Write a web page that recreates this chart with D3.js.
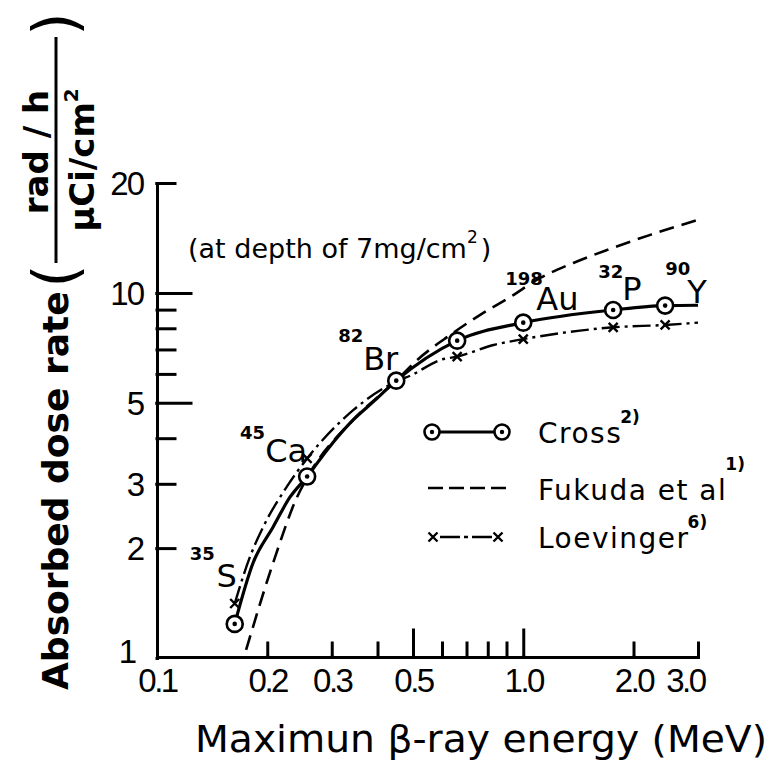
<!DOCTYPE html>
<html>
<head>
<meta charset="utf-8">
<title>Absorbed dose rate vs maximum beta-ray energy</title>
<script src="https://d3js.org/d3.v7.min.js"></script>
<style>
  body { margin: 0; background: #fff; }
  svg { display: block; background: #fff; }
  text { fill: #000; }
</style>
</head>
<body>
<svg id="chart" width="771" height="762"></svg>
<script>
// nuclides measured by Cross (circle markers)
const nuclideMass = ["35", "45", "82", "", "198", "32", "90"];
const nuclideSym  = ["S", "Ca", "Br", "", "Au", "P", "Y"];
const energy      = [0.163, 0.257, 0.45, 0.66, 1.0, 1.76, 2.44];   // MeV
const crossDose   = [1.24, 3.14, 5.75, 7.40, 8.29, 8.98, 9.23];

// Loevinger x markers
const loevEnergy = [0.163, 0.257, 0.66, 1.0, 1.76, 2.44];
const loevDose   = [1.41, 3.52, 6.69, 7.47, 8.05, 8.17];

// curves, [MeV, dose]
const crossCurve = [[0.163, 1.24], [0.1829, 1.821], [0.2075, 2.285], [0.2309, 2.761],
  [0.257, 3.14], [0.2914, 3.715], [0.3432, 4.487], [0.3892, 5.028], [0.45, 5.75], [0.66, 7.40],
  [1.0, 8.29], [1.76, 8.98], [2.44, 9.23], [3.0, 9.25]];
const fukudaCurve = [[0.1751, 1.052], [0.2075, 1.821], [0.2413, 2.761], [0.257, 3.12], [0.3432, 4.49],
  [0.45, 5.75], [0.5133, 6.55], [0.6317, 7.67], [0.7629, 8.71], [0.9215, 9.75], [1.113, 10.99],
  [1.37, 12.08], [1.696, 13.12], [2.223, 14.42], [3.0, 15.85]];
const loevCurve = [[0.163, 1.41], [0.1795, 1.895], [0.1952, 2.29], [0.2262, 2.947], [0.257, 3.52],
  [0.3439, 4.78], [0.45, 5.72], [0.4964, 5.96], [0.5933, 6.55], [0.66, 6.69],
  [0.8295, 7.20], [1.0, 7.47], [1.76, 8.05], [2.44, 8.17], [3.0, 8.29]];

// axes
const xMinor  = [0.2, 0.3, 0.4, 0.6, 0.7, 0.8, 0.9, 2.0, 3.0];
const xMajor  = [0.5, 1.0];
const xLabels = [0.1, 0.2, 0.3, 0.5, 1.0, 2.0, 3.0];
const yMinor  = [2, 3, 4, 6, 7, 8, 9, 20];
const yMajor  = [5, 10];
const yLabels = [1, 2, 3, 5, 10, 20];

const svg = d3.select("#chart");

const x = d3.scaleLog().domain([0.1, 3.0]).range([157, 698]);
const y = d3.scaleLog().domain([1, 20]).range([658, 183]);

const tickFont = "'Liberation Sans', Arial, sans-serif";
const mainFont = "'DejaVu Sans', sans-serif";

// --- axes ---
const gx = svg.append("g").attr("transform", "translate(0,657)");
gx.call(d3.axisBottom(x).tickValues(xMinor).tickSize(-14).tickSizeOuter(0).tickFormat(""));
gx.append("g").call(d3.axisBottom(x).tickValues(xMajor).tickSize(-27).tickSizeOuter(0).tickFormat(""))
  .select(".domain").remove();
const gxl = gx.append("g").call(d3.axisBottom(x).tickValues(xLabels).tickSize(0).tickPadding(12)
  .tickFormat(d3.format(".1f")));
gxl.select(".domain").remove();
gxl.selectAll("text")
  .attr("font-family", tickFont).attr("font-size", 33).attr("letter-spacing", -2.5)
  .attr("text-anchor", (d, i) => i === xLabels.length - 1 ? "end" : "middle")
  .attr("dx", (d, i) => i === xLabels.length - 1 ? 6 : 0);

const gy = svg.append("g").attr("transform", "translate(157,0)");
gy.call(d3.axisLeft(y).tickValues(yMinor).tickSize(-18).tickSizeOuter(0).tickFormat(""));
gy.append("g").call(d3.axisLeft(y).tickValues(yMajor).tickSize(-34).tickSizeOuter(0).tickFormat(""))
  .select(".domain").remove();
const gyl = gy.append("g").call(d3.axisLeft(y).tickValues(yLabels).tickSize(0).tickPadding(14)
  .tickFormat(d3.format("d")));
gyl.select(".domain").remove();
gyl.selectAll("text")
  .attr("font-family", tickFont).attr("font-size", 33).attr("letter-spacing", -2)
  .attr("dy", d => d === 1 ? "0.15em" : "0.35em")
  .attr("dx", d => d === 1 ? -8 : 0);

svg.selectAll(".domain, .tick line")
  .attr("stroke", "#000").attr("stroke-width", 3).attr("stroke-linecap", "square");

// --- curves ---
const line = d3.line()
  .x(d => x(d[0]))
  .y(d => y(d[1]))
  .curve(d3.curveMonotoneX);

svg.append("path").datum(fukudaCurve)
  .attr("d", line).attr("fill", "none").attr("stroke", "#000")
  .attr("stroke-width", 2.6).attr("stroke-dasharray", "15,8");

svg.append("path").datum(loevCurve)
  .attr("d", line).attr("fill", "none").attr("stroke", "#000")
  .attr("stroke-width", 2.4).attr("stroke-dasharray", "18,5,3,5");

svg.append("path").datum(crossCurve)
  .attr("d", line).attr("fill", "none").attr("stroke", "#000")
  .attr("stroke-width", 3.2);

// --- markers ---
const xMark = "M-4.5,-4.5L4.5,4.5M-4.5,4.5L4.5,-4.5";

svg.selectAll(".lx").data(loevEnergy).enter().append("path")
  .attr("class", "lx")
  .attr("transform", (d, i) => `translate(${x(d)},${y(loevDose[i])})`)
  .attr("d", xMark).attr("stroke", "#000").attr("stroke-width", 2.4);

const cm = svg.selectAll(".cm").data(energy).enter().append("g")
  .attr("class", "cm")
  .attr("transform", (d, i) => `translate(${x(d)},${y(crossDose[i])})`);
cm.append("circle").attr("r", 8).attr("fill", "#fff").attr("stroke", "#000").attr("stroke-width", 2.6);
cm.append("circle").attr("r", 2.3).attr("fill", "#000");

// --- nuclide labels (offsets from the circle) ---
const labelLayout = [
  { anchor: "end",   sx: 2,  sy: -37, mx: -20, my: -64 },
  { anchor: "end",   sx: 0,  sy: -15, mx: -42, my: -38 },
  { anchor: "end",   sx: 2,  sy: -11, mx: -33, my: -39 },
  null,
  { anchor: "start", sx: 13, sy: -13, mx: -18, my: -38 },
  { anchor: "start", sx: 9,  sy: -10, mx: -15, my: -32 },
  { anchor: "start", sx: 22, sy: -3,  mx: 0,   my: -31 }
];

energy.forEach((e, i) => {
  const L = labelLayout[i];
  if (!L) return;
  const cx = x(e), cy = y(crossDose[i]);
  svg.append("text")
    .attr("x", cx + L.sx).attr("y", cy + L.sy)
    .attr("text-anchor", L.anchor)
    .attr("font-family", mainFont).attr("font-size", 32)
    .text(nuclideSym[i]);
  svg.append("text")
    .attr("x", cx + L.mx).attr("y", cy + L.my)
    .attr("text-anchor", L.anchor)
    .attr("font-family", mainFont).attr("font-weight", "bold").attr("font-size", 18)
    .text(nuclideMass[i]);
});

// --- annotation ---
const note = svg.append("text")
  .attr("x", 188).attr("y", 258)
  .attr("font-family", mainFont).attr("font-size", 27);
note.append("tspan").text("(at depth of 7mg/cm");
note.append("tspan").attr("font-size", 17).attr("dy", -15).text("2");
note.append("tspan").attr("dy", 15).attr("dx", 3).text(")");

// --- legend ---
const lg = svg.append("g");
lg.append("line").attr("x1", 432).attr("x2", 502).attr("y1", 432).attr("y2", 432)
  .attr("stroke", "#000").attr("stroke-width", 3);
[432, 502].forEach(px => {
  lg.append("circle").attr("cx", px).attr("cy", 432).attr("r", 7.5)
    .attr("fill", "#fff").attr("stroke", "#000").attr("stroke-width", 2.6);
  lg.append("circle").attr("cx", px).attr("cy", 432).attr("r", 2.2).attr("fill", "#000");
});
lg.append("line").attr("x1", 428).attr("x2", 507).attr("y1", 488).attr("y2", 488)
  .attr("stroke", "#000").attr("stroke-width", 2.6).attr("stroke-dasharray", "15,6");
lg.append("line").attr("x1", 440).attr("x2", 492).attr("y1", 537).attr("y2", 537)
  .attr("stroke", "#000").attr("stroke-width", 2.4).attr("stroke-dasharray", "20,4,4,4");
[433, 498].forEach(px => {
  lg.append("path").attr("transform", `translate(${px},537)`).attr("d", xMark)
    .attr("stroke", "#000").attr("stroke-width", 2.4);
});

const legendNames = ["Cross", "Fukuda et al", "Loevinger"];
const legendRefs  = ["2)", "1)", "6)"];
const legendY   = [443, 500, 548];
const legendRise = [20, 30, 20];
legendNames.forEach((n, i) => {
  const t = lg.append("text").attr("x", 538).attr("y", legendY[i])
    .attr("font-family", mainFont).attr("font-size", 28).attr("letter-spacing", 1.5)
    .text(n);
  const w = t.node().getComputedTextLength();
  lg.append("text").attr("x", 538 + w - 2).attr("y", legendY[i] - legendRise[i])
    .attr("font-family", mainFont).attr("font-weight", "bold").attr("font-size", 17)
    .text(legendRefs[i]);
});

// --- axis titles ---
svg.append("text")
  .attr("x", 195).attr("y", 752)
  .attr("font-family", mainFont).attr("font-size", 38)
  .attr("textLength", 572).attr("lengthAdjust", "spacingAndGlyphs")
  .text("Maximun β-ray energy (MeV)");

const yt = svg.append("g").attr("font-family", mainFont).attr("font-weight", "bold");
yt.append("text")
  .attr("transform", "translate(68,690) rotate(-90)")
  .attr("font-size", 36)
  .text("Absorbed dose rate");
yt.append("text")
  .attr("transform", "translate(76,276) rotate(-90)")
  .attr("text-anchor", "middle").attr("font-size", 60).attr("font-weight", "normal")
  .text("(");
yt.append("text")
  .attr("transform", "translate(76,24) rotate(-90)")
  .attr("text-anchor", "middle").attr("font-size", 60).attr("font-weight", "normal")
  .text(")");
yt.append("line").attr("x1", 56).attr("x2", 56).attr("y1", 37).attr("y2", 263)
  .attr("stroke", "#000").attr("stroke-width", 3);
yt.append("text")
  .attr("transform", "translate(48,152) rotate(-90)")
  .attr("text-anchor", "middle").attr("font-size", 34)
  .text("rad / h");
const frac = yt.append("text")
  .attr("transform", "translate(94,160) rotate(-90)")
  .attr("text-anchor", "middle").attr("font-size", 34);
frac.append("tspan").text("μCi/cm");
frac.append("tspan").attr("font-size", 20).attr("dy", -16).text("2");
</script>
</body>
</html>
